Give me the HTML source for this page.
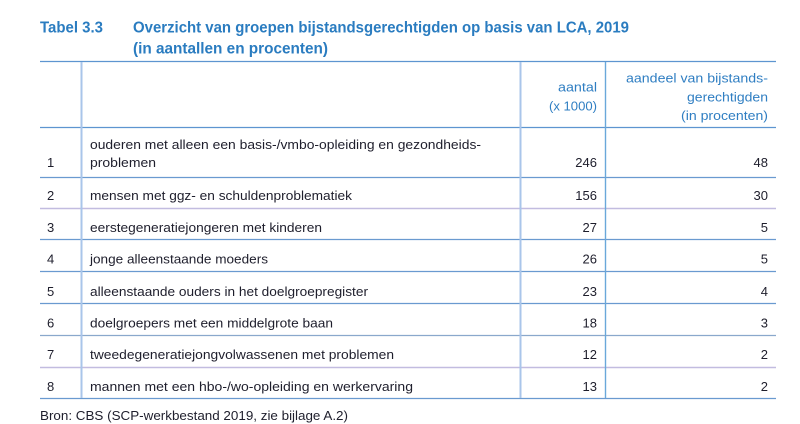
<!DOCTYPE html>
<html><head><meta charset="utf-8"><style>
html,body{margin:0;padding:0;background:#fff;width:800px;height:424px;overflow:hidden}
svg{display:block}
.t{font-family:"Liberation Sans",sans-serif;font-weight:bold;font-size:15.5px;fill:#2a7cc0}
.h{font-family:"Liberation Sans",sans-serif;font-size:13px;fill:#2f7ec2}
.b{font-family:"Liberation Sans",sans-serif;font-size:13px;fill:#1e1e2c}
</style></head><body>
<svg width="800" height="424" viewBox="0 0 800 424" xmlns="http://www.w3.org/2000/svg">
<rect width="800" height="424" fill="#fff"/>
<text class="t" x="40" y="32.5" textLength="63" lengthAdjust="spacingAndGlyphs">Tabel 3.3</text>
<text class="t" x="133" y="32.5" textLength="496" lengthAdjust="spacingAndGlyphs">Overzicht van groepen bijstandsgerechtigden op basis van LCA, 2019</text>
<text class="t" x="133" y="53.5" textLength="195" lengthAdjust="spacingAndGlyphs">(in aantallen en procenten)</text>

<g stroke-width="1.2">
<line x1="40" y1="61.5" x2="776" y2="61.5" stroke="#5d95d0"/>
<line x1="40" y1="127.5" x2="776" y2="127.5" stroke="#5d95d0"/>
<line x1="40" y1="177.5" x2="776" y2="177.5" stroke="#6a9ad0"/>
<line x1="40" y1="208.5" x2="776" y2="208.5" stroke="#c2bce0" stroke-width="1.6"/>
<line x1="40" y1="239.5" x2="776" y2="239.5" stroke="#6a9ad0"/>
<line x1="40" y1="271.5" x2="776" y2="271.5" stroke="#6a9ad0"/>
<line x1="40" y1="303.5" x2="776" y2="303.5" stroke="#6a9ad0"/>
<line x1="40" y1="335.5" x2="776" y2="335.5" stroke="#8aa8cc"/>
<line x1="40" y1="367.5" x2="776" y2="367.5" stroke="#c2bce0" stroke-width="1.6"/>
<line x1="40" y1="398.5" x2="776" y2="398.5" stroke="#6a9ad0"/>
</g>
<line x1="81.5" y1="62" x2="81.5" y2="398" stroke="#a9c5ea" stroke-width="2"/>
<line x1="520.5" y1="62" x2="520.5" y2="398" stroke="#a9c5ea" stroke-width="2"/>
<line x1="605.5" y1="62" x2="605.5" y2="398" stroke="#6aa8da" stroke-width="1.4"/>

<text class="h" x="597" y="91.5" text-anchor="end" textLength="39" lengthAdjust="spacingAndGlyphs">aantal</text>
<text class="h" x="597" y="110.5" text-anchor="end" textLength="48" lengthAdjust="spacingAndGlyphs">(x 1000)</text>
<text class="h" x="768" y="82.5" text-anchor="end" textLength="142" lengthAdjust="spacingAndGlyphs">aandeel van bijstands-</text>
<text class="h" x="768" y="101.5" text-anchor="end" textLength="81" lengthAdjust="spacingAndGlyphs">gerechtigden</text>
<text class="h" x="768" y="120" text-anchor="end" textLength="87" lengthAdjust="spacingAndGlyphs">(in procenten)</text>

<g class="b">
<text class="b" x="47" y="167">1</text>
<text class="b" x="90" y="149" textLength="391" lengthAdjust="spacingAndGlyphs">ouderen met alleen een basis-/vmbo-opleiding en gezondheids-</text>
<text class="b" x="90" y="167" textLength="66" lengthAdjust="spacingAndGlyphs">problemen</text>
<text class="b" x="597" y="167" text-anchor="end">246</text>
<text class="b" x="768" y="167" text-anchor="end">48</text>

<text class="b" x="47" y="200">2</text>
<text class="b" x="90" y="200" textLength="262" lengthAdjust="spacingAndGlyphs">mensen met ggz- en schuldenproblematiek</text>
<text class="b" x="597" y="200" text-anchor="end">156</text>
<text class="b" x="768" y="200" text-anchor="end">30</text>

<text class="b" x="47" y="232">3</text>
<text class="b" x="90" y="232" textLength="232" lengthAdjust="spacingAndGlyphs">eerstegeneratiejongeren met kinderen</text>
<text class="b" x="597" y="232" text-anchor="end">27</text>
<text class="b" x="768" y="232" text-anchor="end">5</text>

<text class="b" x="47" y="263.5">4</text>
<text class="b" x="90" y="263.5" textLength="178" lengthAdjust="spacingAndGlyphs">jonge alleenstaande moeders</text>
<text class="b" x="597" y="263.5" text-anchor="end">26</text>
<text class="b" x="768" y="263.5" text-anchor="end">5</text>

<text class="b" x="47" y="296">5</text>
<text class="b" x="90" y="296" textLength="278" lengthAdjust="spacingAndGlyphs">alleenstaande ouders in het doelgroepregister</text>
<text class="b" x="597" y="296" text-anchor="end">23</text>
<text class="b" x="768" y="296" text-anchor="end">4</text>

<text class="b" x="47" y="327.5">6</text>
<text class="b" x="90" y="327.5" textLength="243" lengthAdjust="spacingAndGlyphs">doelgroepers met een middelgrote baan</text>
<text class="b" x="597" y="327.5" text-anchor="end">18</text>
<text class="b" x="768" y="327.5" text-anchor="end">3</text>

<text class="b" x="47" y="359">7</text>
<text class="b" x="90" y="359" textLength="304" lengthAdjust="spacingAndGlyphs">tweedegeneratiejongvolwassenen met problemen</text>
<text class="b" x="597" y="359" text-anchor="end">12</text>
<text class="b" x="768" y="359" text-anchor="end">2</text>

<text class="b" x="47" y="391">8</text>
<text class="b" x="90" y="391" textLength="323" lengthAdjust="spacingAndGlyphs">mannen met een hbo-/wo-opleiding en werkervaring</text>
<text class="b" x="597" y="391" text-anchor="end">13</text>
<text class="b" x="768" y="391" text-anchor="end">2</text>

<text class="b" x="40" y="420" textLength="308" lengthAdjust="spacingAndGlyphs">Bron: CBS (SCP-werkbestand 2019, zie bijlage A.2)</text>
</g>
</svg>
</body></html>
